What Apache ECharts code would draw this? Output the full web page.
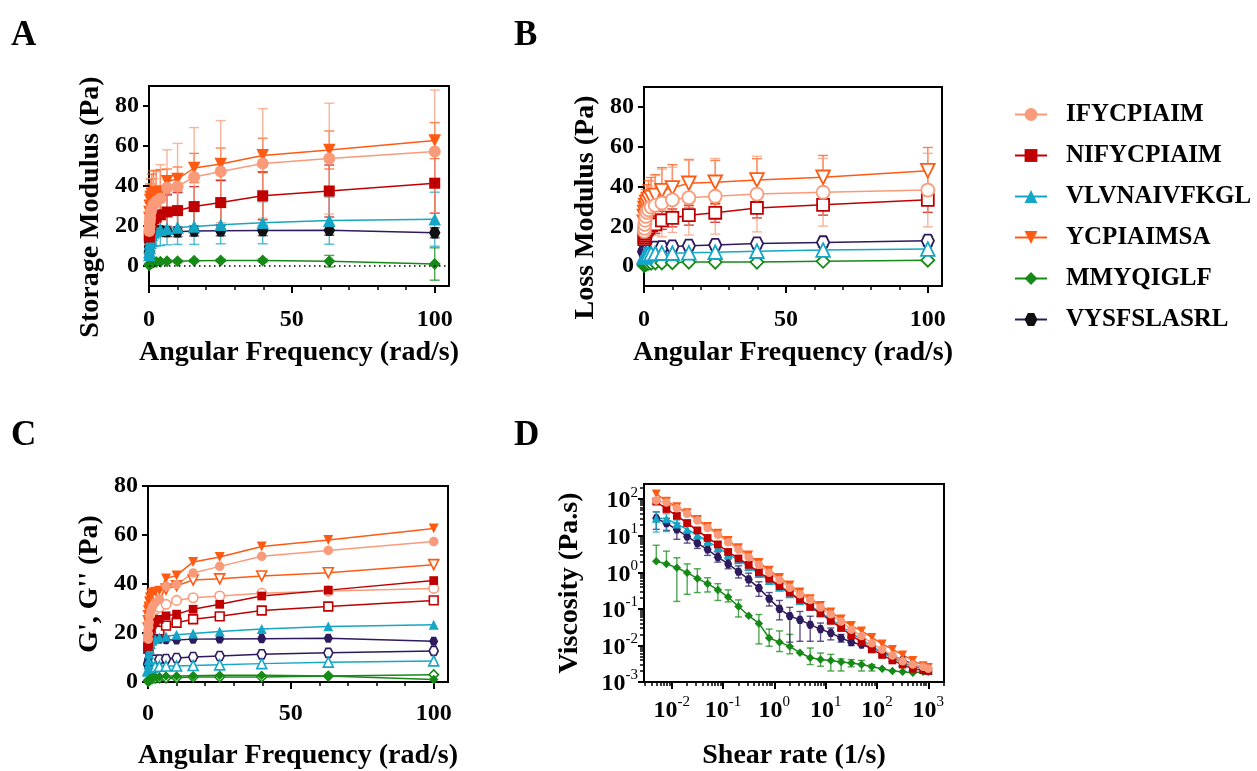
<!DOCTYPE html>
<html><head><meta charset="utf-8">
<script src="https://cdn.jsdelivr.net/npm/echarts@6/dist/echarts.min.js"></script>
<style>html,body{margin:0;padding:0;background:#fff}#c{width:1257px;height:771px}</style>
</head><body><div id="c"></div>
<script>
// ---------- DATA ----------
const peptides = ['IFYCPIAIM','NIFYCPIAIM','VLVNAIVFKGL','YCPIAIMSA','MMYQIGLF','VYSFSLASRL'];
const freq = [0.1, 0.158, 0.251, 0.398, 0.631, 1, 1.58, 2.51, 3.98, 6.31, 10, 15.8, 25.1, 39.8, 63.1, 100];

// Storage modulus G' (Pa) and SD
const storage_IFYCPIAIM   = [17.5, 19.6, 22.3, 24.3, 27, 29, 30.8, 32.4, 33.7, 39.1, 39.8, 44.5, 47.2, 51.3, 53.7, 57.3];
const storage_NIFYCPIAIM  = [14.5, 15.5, 16.8, 18.6, 20.2, 22, 23.6, 24.5, 25.6, 27, 27.7, 29.7, 31.7, 35.1, 37.5, 41.4];
const storage_VLVNAIVFKGL = [5.5, 7, 9, 11.5, 13.5, 15.5, 16.8, 17.5, 18.2, 18.6, 19.3, 19.8, 20.6, 21.6, 22.7, 23.4];
const storage_YCPIAIMSA   = [24, 27, 30, 33, 34.5, 36, 36.5, 36.8, 37.2, 42.3, 43.5, 49, 51, 55.3, 58, 62.7];
const storage_MMYQIGLF    = [0.4, 0.6, 0.8, 1.0, 1.3, 1.5, 1.8, 2.0, 2.1, 2.4, 2.4, 2.6, 2.8, 2.8, 2.4, 1.0];
const storage_VYSFSLASRL  = [7, 9.5, 12, 14.8, 16.5, 17.3, 17.5, 17.5, 17.5, 17.2, 17.1, 17.5, 17.6, 17.7, 17.9, 16.6];

const storageSD_IFYCPIAIM   = [7, 8, 9, 10, 11, 12, 13, 15, 17, 19, 21.5, 24.7, 25.5, 27.4, 27.7, 30.7];
const storageSD_NIFYCPIAIM  = [4, 4.5, 5, 5.5, 6, 6.5, 7, 7.5, 8, 8.5, 9, 10, 11, 12, 13, 15];
const storageSD_VLVNAIVFKGL = [2, 3, 4, 5, 6, 6.5, 7, 7.5, 8, 8, 8.5, 9, 9.5, 10.5, 11.8, 13.5];
const storageSD_YCPIAIMSA   = [5, 6, 7, 8, 9, 10, 11, 11, 11, 6.2, 6, 7.3, 8, 8.6, 9.5, 9];
const storageSD_MMYQIGLF    = [0.3, 0.3, 0.4, 0.4, 0.5, 0.5, 0.5, 0.5, 0.5, 0.5, 0.6, 0.6, 0.6, 0.7, 2.9, 8.1];
const storageSD_VYSFSLASRL  = [1.5, 2, 2, 2.5, 2.5, 2.5, 2.5, 2.5, 2.5, 2.5, 2.5, 2.5, 2.5, 2.5, 2.5, 2.5];

// Loss modulus G'' (Pa) and SD
const loss_IFYCPIAIM   = [17.5, 19, 21, 23, 25, 27, 28.3, 29.7, 30.5, 31.7, 33.3, 34.4, 35.1, 36.2, 37.1, 38.2];
const loss_NIFYCPIAIM  = [13.5, 14.5, 15.5, 16.5, 17.5, 18.5, 19.5, 20.5, 21, 23, 24.2, 25.6, 26.8, 29.2, 30.8, 33.3];
const loss_VLVNAIVFKGL = [4.5, 4.8, 5, 5.3, 5.6, 5.9, 6.1, 6.3, 6.4, 6.5, 6.5, 6.7, 7.0, 7.5, 8.1, 8.6];
const loss_YCPIAIMSA   = [22, 25, 27, 29, 30.5, 32, 33.5, 34.5, 35.5, 37.9, 39.3, 41.6, 42.1, 43.3, 44.6, 47.9];
const loss_MMYQIGLF    = [0.3, 0.4, 0.6, 0.8, 1.0, 1.2, 1.4, 1.5, 1.6, 1.6, 1.7, 2.0, 2.0, 2.0, 2.4, 3.0];
const loss_VYSFSLASRL  = [7, 7.5, 8, 8.3, 8.6, 8.8, 9, 9.1, 9.2, 9.4, 9.8, 10.2, 10.6, 11.3, 11.9, 12.7];

const lossSD_IFYCPIAIM   = [6, 7, 8, 9, 10, 11, 12, 13, 15, 17, 16.4, 18.8, 19, 19, 17, 18.5];
const lossSD_NIFYCPIAIM  = [3, 3, 3.5, 3.5, 4, 4, 4, 4.5, 4.5, 4.5, 4.5, 5, 4.8, 5, 5.2, 6.3];
const lossSD_VLVNAIVFKGL = [1, 1, 1, 1.2, 1.2, 1.2, 1.3, 1.3, 1.3, 1.3, 1.3, 1.4, 1.4, 1.5, 1.5, 1.6];
const lossSD_YCPIAIMSA   = [4, 5, 6, 7, 8, 9, 9.5, 10, 10.5, 11.6, 11.7, 12, 11, 10.7, 11, 11.7];
const lossSD_MMYQIGLF    = [0.2, 0.2, 0.3, 0.3, 0.3, 0.3, 0.4, 0.4, 0.4, 0.4, 0.4, 0.4, 0.4, 0.4, 0.5, 0.6];
const lossSD_VYSFSLASRL  = [1.5, 1.5, 1.5, 1.8, 1.8, 1.8, 2, 2, 2, 2, 2, 2, 2, 2, 2.2, 2.4];

// Viscosity (Pa.s) vs shear rate (1/s)
const shear = [0.005, 0.0079, 0.0126, 0.02, 0.0316, 0.05, 0.0794, 0.126, 0.2, 0.316, 0.5, 0.794, 1.26, 2, 3.16, 5, 7.94, 12.6, 20, 31.6, 50, 79.4, 126, 200, 316, 500, 794, 1000];
const visc_IFYCPIAIM   = [92, 81, 57, 40, 26, 16.3, 10.7, 6.6, 4.2, 2.6, 1.6, 0.98, 0.62, 0.38, 0.25, 0.176, 0.11, 0.071, 0.045, 0.027, 0.018, 0.0115, 0.0077, 0.0053, 0.0037, 0.003, 0.0026, 0.0023];
const visc_NIFYCPIAIM  = [86, 54, 35, 22.3, 14, 8.7, 5.8, 3.6, 2.4, 1.6, 1.0, 0.67, 0.42, 0.28, 0.18, 0.113, 0.075, 0.047, 0.030, 0.019, 0.0123, 0.0078, 0.0055, 0.0039, 0.0030, 0.0023, 0.0021, 0.0020];
const visc_VLVNAIVFKGL = [30, 29, 21, 15, 10.5, 7, 4.8, 3.1, 2.2, 1.45, 0.92, 0.6, 0.39, 0.26, 0.17, 0.12, 0.08, 0.052, 0.034, 0.022, 0.0145, 0.0095, 0.0064, 0.0046, 0.0034, 0.0027, 0.0023, 0.0021];
const visc_YCPIAIMSA   = [140, 88, 62, 43, 28, 18, 11.8, 7.4, 4.7, 3.0, 1.85, 1.15, 0.72, 0.45, 0.29, 0.19, 0.125, 0.082, 0.053, 0.035, 0.025, 0.0166, 0.011, 0.0078, 0.0055, 0.0039, 0.0028, 0.0025];
const visc_MMYQIGLF    = [2.0, 1.7, 1.33, 0.98, 0.68, 0.49, 0.33, 0.21, 0.116, 0.065, 0.040, 0.016, 0.0123, 0.0094, 0.0063, 0.0046, 0.0041, 0.0039, 0.0035, 0.0033, 0.0030, 0.0026, 0.0023, 0.0020, 0.0019, 0.0018, 0.0019, 0.0019];
const visc_VYSFSLASRL  = [30, 22, 14.8, 9.6, 6.3, 4.2, 2.6, 1.7, 1.04, 0.64, 0.37, 0.19, 0.10, 0.064, 0.050, 0.037, 0.028, 0.022, 0.016, 0.0123, 0.0105, 0.0085, 0.0068, 0.0052, 0.0040, 0.0031, 0.0025, 0.0022];

// Viscosity error-bar ends (null = not drawn)
const viscHi_MMYQIGLF   = [5.5, 3.8, 2.5, 1.7, 1.25, 0.71, 0.49, 0.33, 0.176, null, 0.07, 0.028, 0.025, 0.020, null, 0.0085, 0.0062, 0.0057, 0.0043, 0.0041, 0.0039, 0.0030, null, null, null, null, null, null];
const viscLo_MMYQIGLF   = [null, null, 0.16, 0.25, 0.28, 0.29, 0.17, 0.155, 0.06, null, 0.011, 0.0095, 0.0068, 0.0059, null, 0.0030, 0.0027, 0.0020, 0.0020, 0.0026, 0.0020, 0.0020, null, null, null, null, null, null];
const viscHi_VYSFSLASRL = [45, 30, 22, 13, 9, 6, 3.6, 2.3, 1.5, 0.95, 0.55, 0.28, 0.17, 0.11, 0.085, 0.063, 0.041, 0.030, 0.020, 0.015, null, null, null, null, null, null, null, null];
const viscLo_VYSFSLASRL = [15, 14, 8, 6.3, 4.5, 2.9, 1.9, 1.25, 0.7, 0.42, 0.22, 0.12, 0.05, 0.0123, 0.013, 0.013, 0.013, 0.0142, 0.0123, 0.010, null, null, null, null, null, null, null, null];
const viscHi_VLVNAIVFKGL = [45, 40, 27, null, null, null, null, null, null, null, null, null, null, null, null, null, null, null, null, null, null, null, null, null, null, null, null, null];
const viscLo_VLVNAIVFKGL = [12.6, 13, 15, null, null, null, null, null, null, null, null, null, null, null, null, null, null, null, null, null, null, null, null, null, null, null, null, null];

// ---------- STYLE ----------
const FONT = 'Liberation Serif';
const colors = {IFYCPIAIM:'#F99B7A', NIFYCPIAIM:'#C00000', VLVNAIVFKGL:'#14A6C6', YCPIAIMSA:'#FF5A14', MMYQIGLF:'#168A16', VYSFSLASRL:'#2D1B5E'};
const HEX = 'path://M0,5 L2.887,0 L8.66,0 L11.547,5 L8.66,10 L2.887,10 Z';
const symbols = {IFYCPIAIM:['circle',0], NIFYCPIAIM:['rect',0], VLVNAIVFKGL:['triangle',0], YCPIAIMSA:['triangle',180], MMYQIGLF:['diamond',0], VYSFSLASRL:[HEX,0]};
const sizeAdj = {IFYCPIAIM:1, NIFYCPIAIM:0.92, VLVNAIVFKGL:1.05, YCPIAIMSA:1.05, MMYQIGLF:1.0, VYSFSLASRL:0.95};

const storage = {IFYCPIAIM:storage_IFYCPIAIM, NIFYCPIAIM:storage_NIFYCPIAIM, VLVNAIVFKGL:storage_VLVNAIVFKGL, YCPIAIMSA:storage_YCPIAIMSA, MMYQIGLF:storage_MMYQIGLF, VYSFSLASRL:storage_VYSFSLASRL};
const storageSD = {IFYCPIAIM:storageSD_IFYCPIAIM, NIFYCPIAIM:storageSD_NIFYCPIAIM, VLVNAIVFKGL:storageSD_VLVNAIVFKGL, YCPIAIMSA:storageSD_YCPIAIMSA, MMYQIGLF:storageSD_MMYQIGLF, VYSFSLASRL:storageSD_VYSFSLASRL};
const loss = {IFYCPIAIM:loss_IFYCPIAIM, NIFYCPIAIM:loss_NIFYCPIAIM, VLVNAIVFKGL:loss_VLVNAIVFKGL, YCPIAIMSA:loss_YCPIAIMSA, MMYQIGLF:loss_MMYQIGLF, VYSFSLASRL:loss_VYSFSLASRL};
const lossSD = {IFYCPIAIM:lossSD_IFYCPIAIM, NIFYCPIAIM:lossSD_NIFYCPIAIM, VLVNAIVFKGL:lossSD_VLVNAIVFKGL, YCPIAIMSA:lossSD_YCPIAIMSA, MMYQIGLF:lossSD_MMYQIGLF, VYSFSLASRL:lossSD_VYSFSLASRL};
const visc = {IFYCPIAIM:visc_IFYCPIAIM, NIFYCPIAIM:visc_NIFYCPIAIM, VLVNAIVFKGL:visc_VLVNAIVFKGL, YCPIAIMSA:visc_YCPIAIMSA, MMYQIGLF:visc_MMYQIGLF, VYSFSLASRL:visc_VYSFSLASRL};
const viscErr = {MMYQIGLF:[viscLo_MMYQIGLF, viscHi_MMYQIGLF], VYSFSLASRL:[viscLo_VYSFSLASRL, viscHi_VYSFSLASRL], VLVNAIVFKGL:[viscLo_VLVNAIVFKGL, viscHi_VLVNAIVFKGL]};

const txt = (size, weight) => ({fontFamily: FONT, fontSize: size, fontWeight: weight || 'bold', color: '#000'});
const L10 = Math.log10;

function mainAxis(o) {
  const lab = Object.assign({show: true, customValues: o.ticks, margin: o.margin}, txt(o.fs || 24));
  if (o.fmt) lab.formatter = o.fmt;
  if (o.rich) lab.rich = o.rich;
  const nts = txt(28);
  if (o.pad) nts.padding = o.pad;
  return {
    type: 'value', gridIndex: o.g, min: o.min, max: o.max, position: o.pos,
    axisLine: {show: true, onZero: false, lineStyle: {color: '#000', width: 2}},
    axisTick: {show: true, customValues: o.ticks, length: o.tl || 7, lineStyle: {color: '#000', width: 2}},
    axisLabel: lab, splitLine: {show: false},
    name: o.name, nameLocation: 'middle', nameGap: o.gap, nameTextStyle: nts
  };
}
function minorAxis(g, min, max, pos, vals) {
  return {type: 'value', gridIndex: g, min: min, max: max, position: pos,
    axisLine: {show: false, onZero: false}, axisTick: {show: true, customValues: vals, length: 4, lineStyle: {color: '#000', width: 1.5}},
    axisLabel: {show: false}, splitLine: {show: false}};
}
const linMinor = [10, 20, 30, 40, 60, 70, 80, 90];
const logMinor = (lo, hi) => { const r = []; for (let e = -4; e <= 3; e++) for (let m = 2; m <= 9; m++) { const v = L10(m) + e; if (v > lo && v < hi) r.push(v); } return r; };
const powFmt = v => '{b|10}{s|' + String(Math.round(v)) + '}';
const powRich = {b: {fontFamily: FONT, fontSize: 24, fontWeight: 'bold', color: '#000', lineHeight: 28, verticalAlign: 'bottom'},
                 s: {fontFamily: FONT, fontSize: 15, fontWeight: 'normal', color: '#000', lineHeight: 15, verticalAlign: 'top'}};

const DX = [-2.54, 3.306], DY = [-3, 2.416];

const xAxes = [
  mainAxis({g:0, min:0, max:105, pos:'bottom', ticks:[0,50,100], margin:22, name:'Angular Frequency (rad/s)', gap:53}),
  mainAxis({g:1, min:0, max:105, pos:'bottom', ticks:[0,50,100], margin:22, name:'Angular Frequency (rad/s)', gap:53}),
  mainAxis({g:2, min:0, max:105, pos:'bottom', ticks:[0,50,100], margin:20, name:'Angular Frequency (rad/s)', gap:60}),
  mainAxis({g:3, min:DX[0], max:DX[1], pos:'bottom', ticks:[-2,-1,0,1,2,3], margin:13, fmt:powFmt, rich:powRich, name:'Shear rate (1/s)', gap:60}),
  minorAxis(0, 0, 105, 'bottom', linMinor),
  minorAxis(1, 0, 105, 'bottom', linMinor),
  minorAxis(2, 0, 105, 'bottom', linMinor),
  minorAxis(3, DX[0], DX[1], 'bottom', logMinor(DX[0], DX[1]))
];
const yAxes = [
  mainAxis({g:0, min:-10, max:90, pos:'left', ticks:[0,20,40,60,80], tl:6, margin:10, name:'Storage Modulus (Pa)', gap:44, pad:[0,42,0,0]}),
  mainAxis({g:1, min:-10, max:90, pos:'left', ticks:[0,20,40,60,80], tl:6, margin:10, name:'Loss Modulus (Pa)', gap:44, pad:[0,42,0,0]}),
  mainAxis({g:2, min:0, max:80, pos:'left', ticks:[0,20,40,60,80], tl:6, margin:10, name:"G', G'' (Pa)", gap:44}),
  mainAxis({g:3, min:DY[0], max:DY[1], pos:'left', ticks:[-3,-2,-1,0,1,2], tl:6, margin:6, fmt:powFmt, rich:powRich, name:'Viscosity (Pa.s)', gap:60}),
  minorAxis(3, DY[0], DY[1], 'left', logMinor(DY[0], DY[1]))
];

function errRender(color, capHalf, lw, op) {
  return function (params, api) {
    const x = api.value(0), lo = api.value(1), hi = api.value(2);
    const a = api.coord([x, lo]), b = api.coord([x, hi]);
    const st = {stroke: color, lineWidth: lw, opacity: op};
    const ch = [{type: 'line', shape: {x1: a[0], y1: a[1], x2: b[0], y2: b[1]}, style: st}];
    if (api.value(4)) ch.push({type: 'line', shape: {x1: b[0] - capHalf, y1: b[1], x2: b[0] + capHalf, y2: b[1]}, style: st});
    if (api.value(3)) ch.push({type: 'line', shape: {x1: a[0] - capHalf, y1: a[1], x2: a[0] + capHalf, y2: a[1]}, style: st});
    return {type: 'group', children: ch};
  };
}

function lineSeries(p, idx, xs, ys, size, open, tf, markerColor, bw) {
  const c = colors[p];
  const fill = open ? '#fff' : (markerColor || c);
  return {
    type: 'line', name: p, xAxisIndex: idx, yAxisIndex: idx,
    data: xs.map((x, i) => [tf ? L10(x) : x, tf ? L10(ys[i]) : ys[i]]),
    symbol: symbols[p][0], symbolRotate: symbols[p][1], symbolSize: size * sizeAdj[p],
    showSymbol: true, showAllSymbol: true, z: 3,
    lineStyle: {color: c, width: 1.5},
    itemStyle: {color: fill, borderColor: open ? c : fill, borderWidth: open ? (bw || 1.6) : 0},
    emphasis: {disabled: true}, animation: false
  };
}
function errSeries(p, idx, xs, lo, hi, cap, tf) {
  const data = [];
  xs.forEach((x, i) => {
    if (hi[i] == null && lo[i] == null) return;
    const h = hi[i] == null ? null : hi[i];
    const l = lo[i] == null ? null : lo[i];
    const mid = visc[p] ? visc[p][i] : 0;
    const yl = l == null ? mid : l, yh = h == null ? mid : h;
    data.push([tf ? L10(x) : x, tf ? L10(yl) : yl, tf ? L10(yh) : yh, l == null ? 0 : 1, h == null ? 0 : 1]);
  });
  return {type: 'custom', name: p + ' error', xAxisIndex: idx, yAxisIndex: idx, z: 2,
    renderItem: errRender(colors[p], cap, 1.4, 0.75), data: data, encode: {x: 0, y: [1, 2]}, silent: true, animation: false};
}

const series = [];
const drawOrder = peptides.slice().reverse(); // first data set drawn on top
// Panel A
drawOrder.forEach(p => {
  const s = lineSeries(p, 0, freq, storage[p], 12, false, false, p === 'VYSFSLASRL' ? '#111' : null);
  if (p === 'MMYQIGLF') s.markLine = {silent: true, symbol: 'none', label: {show: false}, animation: false,
    lineStyle: {color: '#000', type: [1.5, 3.5], width: 1.5}, data: [{yAxis: 0}]};
  series.push(s);
});
drawOrder.forEach(p => {
  const m = storage[p], sd = storageSD[p];
  series.push(errSeries(p, 0, freq, m.map((v, i) => v - sd[i]), m.map((v, i) => v + sd[i]), 5, false));
});
// Panel B
drawOrder.forEach(p => series.push(lineSeries(p, 1, freq, loss[p], 13, true, false, null, 1.8)));
drawOrder.forEach(p => {
  const m = loss[p], sd = lossSD[p];
  series.push(errSeries(p, 1, freq, m.map((v, i) => v - sd[i]), m.map((v, i) => v + sd[i]), 5, false));
});
// Panel C
drawOrder.forEach(p => series.push(lineSeries(p, 2, freq, loss[p], 9.5, true, false)));
drawOrder.forEach(p => series.push(lineSeries(p, 2, freq, storage[p], 9.5, false, false)));
// Panel D
drawOrder.forEach(p => series.push(lineSeries(p, 3, shear, visc[p], 8.5, false, true)));
Object.keys(viscErr).forEach(p => series.push(errSeries(p, 3, shear, viscErr[p][0], viscErr[p][1], 3.5, true)));

const grid = [
  {left: 149, top: 86, width: 300, height: 200},
  {left: 644, top: 87, width: 298, height: 199},
  {left: 148, top: 486, width: 300, height: 197},
  {left: 644, top: 484, width: 300, height: 199}
].map(g => Object.assign(g, {show: true, borderColor: '#000', borderWidth: 2, containLabel: false}));

const letter = (t, x, y) => ({type: 'text', x: x, y: y, silent: true,
  style: {text: t, fontFamily: FONT, fontSize: 35, fontWeight: 'bold', fill: '#000'}});

const chart = echarts.init(document.getElementById('c'), null, {renderer: 'canvas'});
chart.setOption({
  backgroundColor: '#fff',
  animation: false,
  grid: grid,
  xAxis: xAxes,
  yAxis: yAxes,
  legend: {
    data: peptides, orient: 'vertical', left: 1009, top: 97, itemWidth: 32, itemHeight: 16, itemGap: 16,
    selectedMode: false,
    textStyle: {fontFamily: FONT, fontWeight: 'bold', fontSize: 25, color: '#000', lineHeight: 25, padding: [0, 0, 0, 14]}
  },
  graphic: [letter('A', 11, 18), letter('B', 514, 18), letter('C', 11, 418), letter('D', 514, 418)],
  series: series
});
</script></body></html>
